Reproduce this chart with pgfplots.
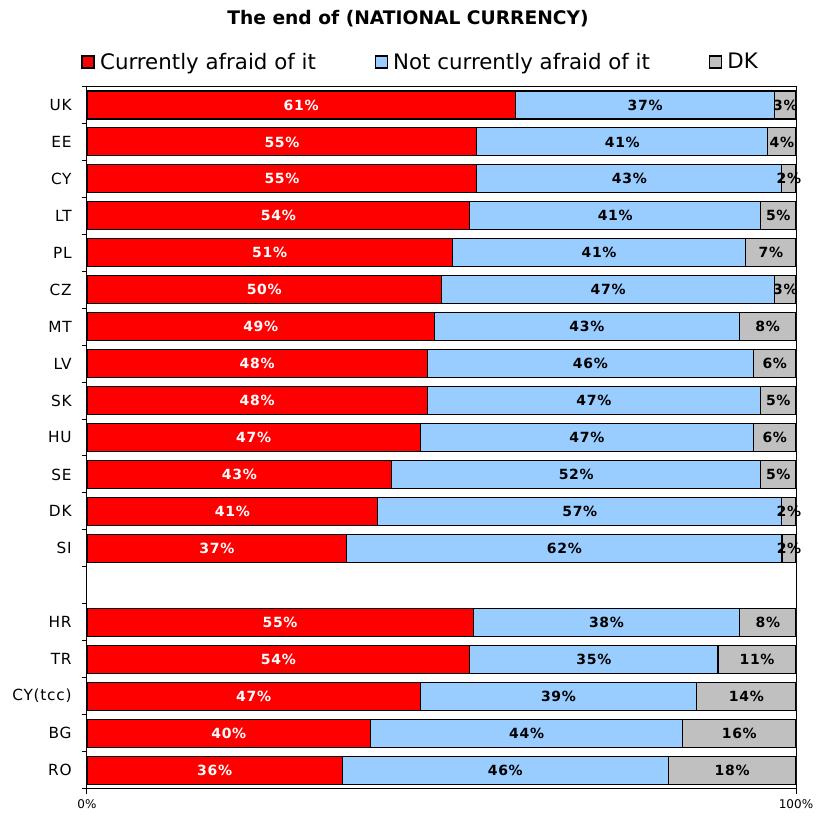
\documentclass[border=0pt]{standalone}
\usepackage{fontspec}
\setmainfont{DejaVu Sans}
\newfontfamily\spaced[LetterSpace=5]{DejaVu Sans}
\usepackage{pgfplots}
\usepackage{pgfplotstable}
\pgfplotsset{compat=1.18}

\definecolor{afraid}{HTML}{FF0000}
\definecolor{notafraid}{HTML}{99CCFF}
\definecolor{dk}{HTML}{C0C0C0}

% pos = row on the y axis (13 is the empty row)
\pgfplotstableread{
pos a  b  c
0   61 37 3
1   55 41 4
2   55 43 2
3   54 41 5
4   51 41 7
5   50 47 3
6   49 43 8
7   48 46 6
8   48 47 5
9   47 47 6
10  43 52 5
11  41 57 2
12  37 62 2
14  55 38 8
15  54 35 11
16  47 39 14
17  40 44 16
18  36 46 18
}\data
% bars are scaled to 100%
\pgfplotstablecreatecol[create col/expr={100*\thisrow{a}/(\thisrow{a}+\thisrow{b}+\thisrow{c})}]{na}\data
\pgfplotstablecreatecol[create col/expr={100*\thisrow{b}/(\thisrow{a}+\thisrow{b}+\thisrow{c})}]{nb}\data
\pgfplotstablecreatecol[create col/expr={100*\thisrow{c}/(\thisrow{a}+\thisrow{b}+\thisrow{c})}]{nc}\data
% label positions: middle of each segment
\pgfplotstablecreatecol[create col/expr={\thisrow{na}/2}]{ca}\data
\pgfplotstablecreatecol[create col/expr={\thisrow{na}+\thisrow{nb}/2}]{cb}\data
\pgfplotstablecreatecol[create col/expr={\thisrow{na}+\thisrow{nb}+\thisrow{nc}/2}]{cc}\data

\newcommand{\lbl}{\spaced\bfseries\fontsize{10.5}{12}\selectfont}

\pgfplotsset{
    frame/.style = {
        scale only axis,
        width  = 531.75pt,
        height = 526.5pt,
        y dir  = reverse,
        xmin = 0, xmax = 100,
        ymin = -0.5, ymax = 18.5,
    },
    seglabel/.style = {
        only marks, mark=none,
        point meta = explicit symbolic,
        nodes near coords = {\pgfplotspointmeta\%},
        every node near coord/.style = {anchor=center, text=#1, font=\lbl},
    },
}

\begin{document}
\begin{tikzpicture}
\begin{axis}[
    frame,
    name             = ax,
    xbar stacked,
    bar width        = 21pt,
    axis line style  = {line width=0.75pt},
    tick align       = outside,
    xtick pos        = bottom,
    ytick pos        = left,
    xtick            = {0,100},
    xticklabels      = {0\%,100\%},
    xticklabel style = {font=\fontsize{9}{10}\selectfont, yshift=-1pt},
    ytick            = {0,...,12,14,15,16,17,18},
    yticklabels      = {UK,EE,CY,LT,PL,CZ,MT,LV,SK,HU,SE,DK,SI,HR,TR,CY(tcc),BG,RO},
    yticklabel style = {font=\spaced\fontsize{11.5}{13}\selectfont, xshift=-4pt},
    major y tick style = {draw=none},
    minor ytick      = {-0.5,0.5,...,18.5},
    minor tick length = 4pt,
    major tick length = 4pt,
    tick style       = {black, line width=0.75pt},
    title            = {The end of (NATIONAL CURRENCY)},
    title style      = {at={(0.4528,1.085)}, anchor=center,
                        font=\bfseries\fontsize{14}{16}\selectfont},
    legend columns   = 3,
    legend style     = {at={(0.471,1.035)}, anchor=center, draw=none,
                        font=\fontsize{16}{19}\selectfont,
                        /tikz/every odd column/.append style={column sep=2pt},
                        /tikz/every even column/.append style={column sep=42pt}},
    legend image code/.code = {\draw[#1, draw=black, line width=1pt] (0pt,-4.5pt) rectangle (9pt,4.5pt);},
]
    \addplot[fill=afraid, draw=black, line width=0.8pt]
        table[x=na, y=pos] {\data};
    \addplot[fill=notafraid, draw=black, line width=0.8pt]
        table[x=nb, y=pos] {\data};
    \addplot[fill=dk, draw=black, line width=0.8pt]
        table[x=nc, y=pos] {\data};
    \legend{Currently afraid of it, Not currently afraid of it, DK}
\end{axis}
\begin{axis}[frame, hide axis]
    \addplot[seglabel=white] table[x=ca, y=pos, meta=a] {\data};
    \addplot[seglabel=black] table[x=cb, y=pos, meta=b] {\data};
    \addplot[seglabel=black] table[x=cc, y=pos, meta=c] {\data};
\end{axis}
\pgfresetboundingbox
\path[use as bounding box] ([shift={(-65.25pt,-20.625pt)}]ax.south west)
    rectangle ([shift={(546.75pt,591.375pt)}]ax.south west);
\end{tikzpicture}
\end{document}
